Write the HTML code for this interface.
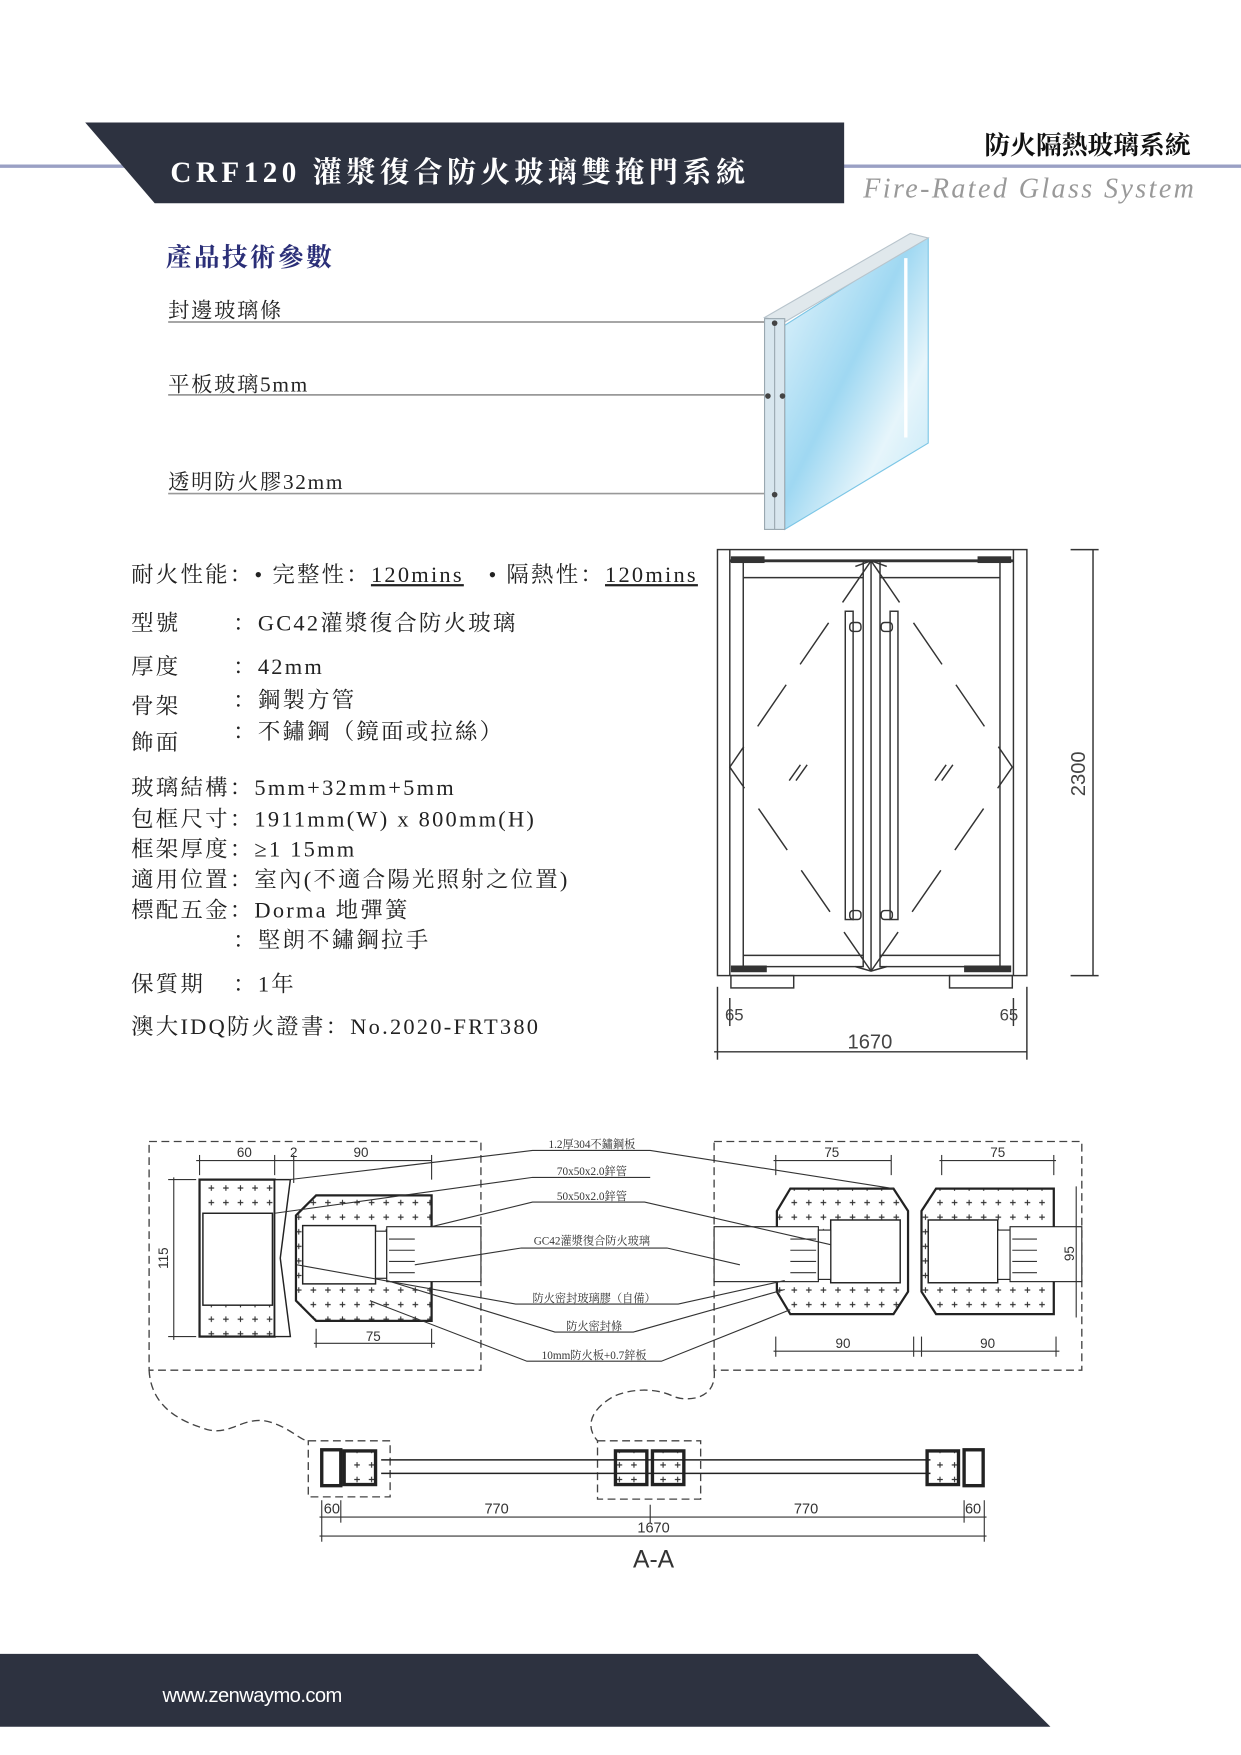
<!DOCTYPE html>
<html><head><meta charset="utf-8"><style>
html,body{margin:0;padding:0;background:#fff}
svg{display:block}
.s{font-family:"Liberation Serif","Noto Serif CJK SC","Noto Sans CJK TC",serif}
.a{font-family:"Liberation Sans",sans-serif}
</style></head><body>
<svg width="1241" height="1755" viewBox="0 0 1107 1565" xmlns="http://www.w3.org/2000/svg">
<defs>
<pattern id="pl" width="13" height="13" patternUnits="userSpaceOnUse"><path d="M4 6.5h5M6.5 4v5" stroke="#333" stroke-width="1"/></pattern>
<linearGradient id="gl" x1="0" y1="0" x2="1" y2="1"><stop offset="0" stop-color="#e8f6fc"/><stop offset=".45" stop-color="#9fd8f2"/><stop offset=".7" stop-color="#e6f5fb"/><stop offset="1" stop-color="#bfe6f6"/></linearGradient>
</defs>
<line x1="0" y1="148" x2="1107" y2="148" stroke="#9aa0c4" stroke-width="3"/>
<polygon points="76,109 753,109 753,181 138,181" fill="#2d3240"/>
<text x="152" y="162" class="s" font-size="26" font-weight="bold" fill="#fff" letter-spacing="4">CRF120 灌漿復合防火玻璃雙掩門系統</text>
<text x="1062" y="137" class="s" font-size="23" font-weight="bold" fill="#111" text-anchor="end">防火隔熱玻璃系統</text>
<text x="770" y="176" class="s" font-size="25" font-style="italic" fill="#999" textLength="295">Fire-Rated Glass System</text>
<text x="148" y="237" class="s" font-size="23" font-weight="bold" fill="#2b2f78" letter-spacing="2">產品技術參數</text>
<g class="s" font-size="19" fill="#222" letter-spacing="1.5">
<text x="150" y="283">封邊玻璃條</text>
<text x="150" y="349">平板玻璃5mm</text>
<text x="150" y="436">透明防火膠32mm</text>
</g>
<g stroke="#999" stroke-width="1.5"><line x1="150" y1="287" x2="688" y2="287"/><line x1="150" y1="352" x2="688" y2="352"/><line x1="150" y1="440" x2="688" y2="440"/></g>
<polygon points="700,290 818,215 828,212 828,395 700,472" fill="url(#gl)" stroke="#7cc6e6"/>
<polygon points="682,283 812,208 828,212 700,287" fill="#e0e8ec" stroke="#b8c4cc"/>
<rect x="682" y="284" width="18" height="188" fill="#d8e6ee" stroke="#9aa8b0"/>
<line x1="691" y1="286" x2="691" y2="472" stroke="#9aa8b0"/>
<line x1="808" y1="230" x2="808" y2="390" stroke="#fff" stroke-width="3"/>
<g fill="#444"><circle cx="691" cy="288" r="2.5"/><circle cx="685" cy="353" r="2.5"/><circle cx="698" cy="353" r="2.5"/><circle cx="691" cy="441" r="2.5"/></g>
<g class="s" font-size="20" fill="#222" letter-spacing="2">
<text x="117" y="519">耐火性能：• 完整性：<tspan text-decoration="underline">120mins</tspan>　• 隔熱性：<tspan text-decoration="underline">120mins</tspan></text>
<text x="117" y="562">型號</text><text x="208" y="562">：GC42灌漿復合防火玻璃</text>
<text x="117" y="601">厚度</text><text x="208" y="601">：42mm</text>
<text x="117" y="636">骨架</text><text x="208" y="631">：鋼製方管</text>
<text x="117" y="669">飾面</text><text x="208" y="659">：不鏽鋼（鏡面或拉絲）</text>
<text x="117" y="709">玻璃結構：5mm+32mm+5mm</text>
<text x="117" y="737">包框尺寸：1911mm(W) x 800mm(H)</text>
<text x="117" y="764">框架厚度：≥1 15mm</text>
<text x="117" y="791">適用位置：室內(不適合陽光照射之位置)</text>
<text x="117" y="818">標配五金：Dorma 地彈簧</text>
<text x="208" y="845">：堅朗不鏽鋼拉手</text>
<text x="117" y="884">保質期</text><text x="208" y="884">：1年</text>
<text x="117" y="922">澳大IDQ防火證書：No.2020-FRT380</text>
</g>
<g fill="none" stroke="#333" stroke-width="1.3">
<rect x="640" y="490" width="276" height="380"/>
<line x1="651" y1="490" x2="651" y2="870"/><line x1="904" y1="490" x2="904" y2="870"/>
<line x1="651" y1="500" x2="904" y2="500" stroke-width="2.5"/>
<rect x="663" y="500" width="107" height="362"/><rect x="785" y="500" width="107" height="362"/>
<line x1="663" y1="515" x2="770" y2="515"/><line x1="785" y1="515" x2="892" y2="515"/>
<line x1="663" y1="852" x2="770" y2="852"/><line x1="785" y1="852" x2="892" y2="852"/>
<line x1="777" y1="500" x2="777" y2="866"/>
<rect x="754" y="545" width="7" height="275"/><rect x="794" y="545" width="7" height="275"/>
<rect x="758" y="555" width="10" height="8" rx="3"/><rect x="786" y="555" width="10" height="8" rx="3"/>
<rect x="758" y="812" width="10" height="8" rx="3"/><rect x="786" y="812" width="10" height="8" rx="3"/>
<rect x="652" y="870" width="56" height="11"/><rect x="847" y="870" width="56" height="11"/>
<g stroke-dasharray="45,22">
<path d="M777,500 L651,684 L777,866"/><path d="M777,500 L903,684 L777,866"/>
</g>
<path d="M763,505 L777,500 L791,505"/><path d="M763,862 L777,866 L791,862"/>
<path d="M704,696 l10,-14 M710,696 l10,-14 M834,696 l10,-14 M840,696 l10,-14"/>
<line x1="975" y1="490" x2="975" y2="870"/><line x1="955" y1="490" x2="980" y2="490"/><line x1="955" y1="870" x2="980" y2="870"/>
<line x1="637" y1="938" x2="916" y2="938"/><line x1="640" y1="880" x2="640" y2="945"/><line x1="916" y1="880" x2="916" y2="945"/>
<line x1="651" y1="890" x2="651" y2="915"/><line x1="904" y1="890" x2="904" y2="915"/>
</g>
<g fill="#333"><rect x="652" y="496" width="30" height="6"/><rect x="872" y="496" width="30" height="6"/><rect x="652" y="861" width="32" height="6"/><rect x="860" y="861" width="42" height="6"/></g>
<g class="a" font-size="18" fill="#444">
<text x="968" y="690" transform="rotate(-90 968 690)" text-anchor="middle">2300</text>
<text x="776" y="935" text-anchor="middle">1670</text>
<text x="655" y="910" text-anchor="middle" font-size="15">65</text><text x="900" y="910" text-anchor="middle" font-size="15">65</text>
</g>
<g fill="none" stroke="#444" stroke-width="1.2" stroke-dasharray="7,4">
<rect x="133" y="1018" width="296" height="204"/>
<rect x="637" y="1018" width="328" height="204"/>
<path d="M133,1222 C135,1260 170,1270 185,1275 C205,1280 215,1265 235,1267 C255,1270 268,1285 275,1285"/>
<path d="M637,1222 C640,1250 610,1250 600,1245 C585,1238 565,1238 548,1245 C530,1255 520,1270 533,1285"/>
<rect x="275" y="1285" width="73" height="50"/>
<rect x="533" y="1285" width="92" height="52"/>
</g>
<g stroke="#222" stroke-width="2">
<rect x="178" y="1052" width="67" height="140" fill="url(#pl)"/>
<rect x="181" y="1082" width="62" height="82" fill="#fff" stroke-width="1.3"/>
<polygon points="245,1052 259,1052 250,1122 259,1192 245,1192" fill="#fff" stroke-width="1.3"/>
<polygon points="282,1066 385,1066 385,1178 282,1178 264,1160 264,1084" fill="url(#pl)"/>
<rect x="270" y="1093" width="65" height="52" fill="#fff" stroke-width="1.3"/>
<rect x="335" y="1098" width="10" height="42" fill="#fff" stroke-width="1"/>
<rect x="345" y="1094" width="84" height="49" fill="#fff" stroke-width="1"/>
<polygon points="705,1060 797,1060 810,1080 810,1152 797,1172 705,1172 693,1152 693,1080" fill="url(#pl)"/>
<rect x="741" y="1088" width="62" height="56" fill="#fff" stroke-width="1.3"/>
<rect x="637" y="1094" width="93" height="49" fill="#fff" stroke-width="1"/>
<rect x="730" y="1097" width="11" height="44" fill="#fff" stroke-width="1"/>
<polygon points="835,1060 940,1060 940,1172 835,1172 822,1152 822,1080" fill="url(#pl)"/>
<rect x="828" y="1088" width="62" height="56" fill="#fff" stroke-width="1.3"/>
<rect x="890" y="1097" width="11" height="44" fill="#fff" stroke-width="1"/>
<rect x="901" y="1094" width="64" height="49" fill="#fff" stroke-width="1"/>
</g>
<g stroke="#333" stroke-width="1" fill="none">
<line x1="347" y1="1105" x2="370" y2="1105"/><line x1="347" y1="1115" x2="370" y2="1115"/><line x1="347" y1="1125" x2="370" y2="1125"/><line x1="347" y1="1135" x2="370" y2="1135"/>
<line x1="705" y1="1105" x2="728" y2="1105"/><line x1="705" y1="1115" x2="728" y2="1115"/><line x1="705" y1="1125" x2="728" y2="1125"/><line x1="705" y1="1135" x2="728" y2="1135"/>
<line x1="903" y1="1105" x2="925" y2="1105"/><line x1="903" y1="1115" x2="925" y2="1115"/><line x1="903" y1="1125" x2="925" y2="1125"/><line x1="903" y1="1135" x2="925" y2="1135"/>
<line x1="175" y1="1035" x2="385" y2="1035"/><line x1="178" y1="1030" x2="178" y2="1048"/><line x1="245" y1="1030" x2="245" y2="1048"/><line x1="262" y1="1030" x2="262" y2="1055"/><line x1="385" y1="1030" x2="385" y2="1052"/>
<line x1="155" y1="1050" x2="155" y2="1195"/><line x1="150" y1="1052" x2="175" y2="1052"/><line x1="150" y1="1192" x2="175" y2="1192"/>
<line x1="280" y1="1198" x2="388" y2="1198"/><line x1="282" y1="1185" x2="282" y2="1202"/><line x1="385" y1="1185" x2="385" y2="1202"/>
<line x1="690" y1="1035" x2="795" y2="1035"/><line x1="692" y1="1030" x2="692" y2="1048"/><line x1="795" y1="1030" x2="795" y2="1048"/>
<line x1="838" y1="1035" x2="942" y2="1035"/><line x1="840" y1="1030" x2="840" y2="1048"/><line x1="940" y1="1030" x2="940" y2="1048"/>
<line x1="690" y1="1205" x2="945" y2="1205"/><line x1="692" y1="1192" x2="692" y2="1210"/><line x1="815" y1="1192" x2="815" y2="1210"/><line x1="822" y1="1192" x2="822" y2="1210"/><line x1="942" y1="1192" x2="942" y2="1210"/>
<line x1="960" y1="1058" x2="960" y2="1175"/>
<path d="M258,1052 L475,1026 L580,1026 L797,1060"/>
<path d="M245,1082 L475,1050 L580,1050"/>
<path d="M385,1094 L475,1072 L575,1072 L741,1110"/>
<path d="M370,1128 L465,1113 L595,1113 L660,1128"/>
<path d="M265,1128 L460,1163 L605,1163 L700,1142"/>
<path d="M345,1142 L495,1188 L565,1188 L700,1150"/>
<path d="M330,1160 L470,1214 L590,1214 L705,1168"/>
</g>
<g class="s" font-size="10" fill="#333" text-anchor="middle">
<text x="528" y="1024">1.2厚304不鏽鋼板</text>
<text x="528" y="1048">70x50x2.0鋅管</text>
<text x="528" y="1070">50x50x2.0鋅管</text>
<text x="528" y="1110">GC42灌漿復合防火玻璃</text>
<text x="530" y="1161">防火密封玻璃膠（自備）</text>
<text x="530" y="1186">防火密封條</text>
<text x="530" y="1212">10mm防火板+0.7鋅板</text>
</g>
<g class="a" font-size="12" fill="#333" text-anchor="middle">
<text x="218" y="1032">60</text><text x="262" y="1032">2</text><text x="322" y="1032">90</text>
<text x="150" y="1122" transform="rotate(-90 150 1122)">115</text>
<text x="333" y="1196">75</text>
<text x="742" y="1032">75</text><text x="890" y="1032">75</text>
<text x="752" y="1202">90</text><text x="881" y="1202">90</text>
<text x="958" y="1118" transform="rotate(-90 958 1118)">95</text>
</g>
<g stroke="#222" stroke-width="1.3" fill="#fff">
<line x1="340" y1="1302" x2="830" y2="1302"/><line x1="340" y1="1314" x2="830" y2="1314"/>
<rect x="287" y="1293" width="17" height="32" stroke-width="3"/>
<rect x="307" y="1294" width="28" height="30" fill="url(#pl)" stroke-width="3"/>
<rect x="549" y="1294" width="28" height="30" fill="url(#pl)" stroke-width="3"/>
<rect x="582" y="1294" width="28" height="30" fill="url(#pl)" stroke-width="3"/>
<rect x="827" y="1294" width="28" height="30" fill="url(#pl)" stroke-width="3"/>
<rect x="860" y="1293" width="17" height="32" stroke-width="3"/>
</g>
<g stroke="#333" stroke-width="1" fill="none">
<line x1="285" y1="1353" x2="880" y2="1353"/><line x1="285" y1="1370" x2="880" y2="1370"/>
<line x1="287" y1="1338" x2="287" y2="1375"/><line x1="304" y1="1338" x2="304" y2="1358"/><line x1="580" y1="1342" x2="580" y2="1358"/><line x1="860" y1="1338" x2="860" y2="1358"/><line x1="878" y1="1338" x2="878" y2="1375"/>
</g>
<g class="a" font-size="13" fill="#333" text-anchor="middle">
<text x="296" y="1350">60</text><text x="443" y="1350">770</text><text x="719" y="1350">770</text><text x="868" y="1350">60</text>
<text x="583" y="1367">1670</text>
</g>
<text x="583" y="1398" class="a" font-size="22" fill="#333" text-anchor="middle">A-A</text>
<polygon points="0,1475 872,1475 937,1540 0,1540" fill="#2d3240"/>
<text x="145" y="1518" class="a" font-size="18" fill="#fff" letter-spacing="-0.5">www.zenwaymo.com</text>
</svg>
</body></html>
